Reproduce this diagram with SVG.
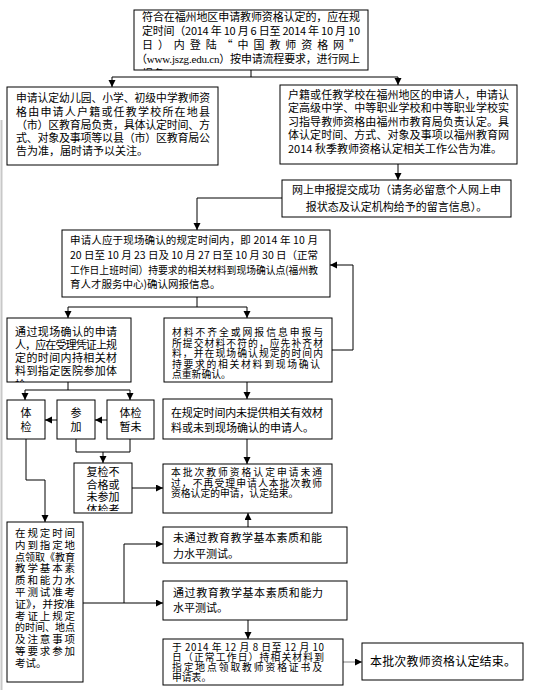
<svg xmlns="http://www.w3.org/2000/svg" width="543" height="690" viewBox="0 0 543 690">
<style>
.b{fill:#fff;stroke:#000;stroke-width:1}
.t{font-family:"Noto Sans CJK SC","Noto Sans",sans-serif;font-size:11px;fill:#000}
.s{font-size:10.5px}
.k{font-size:9.8px}
.m{text-anchor:middle}
.c{stroke:#000;stroke-width:1;fill:none}
.a{stroke:#000;stroke-width:1;fill:none;marker-end:url(#ar)}
.u{font-family:"Liberation Serif",serif}
</style>
<defs>
<marker id="ar" markerUnits="userSpaceOnUse" markerWidth="8" markerHeight="8" refX="7" refY="3.5" orient="auto"><path d="M0,0 L7,3.5 L0,7 z" fill="#000"/></marker>
<clipPath id="cp1"><rect x="134" y="10" width="234" height="60"/></clipPath>
<clipPath id="cp6"><rect x="7" y="318" width="124" height="64"/></clipPath>
<clipPath id="cp11"><rect x="74" y="463" width="58" height="48"/></clipPath>
</defs>
<rect width="543" height="690" fill="#fff"/>
<line x1="1.5" y1="120" x2="1.5" y2="690" stroke="#c8c8c8" stroke-width="2"/>

<g id="connectors">
<polyline class="c" points="251,70 251,77"/>
<polyline class="c" points="112,77 398,77"/>
<polyline class="a" points="112,77 112,87"/>
<polyline class="a" points="398,77 398,85"/>
<polyline class="a" points="398,164 398,180"/>
<polyline class="a" points="282,198 197,198 197,230"/>
<polyline class="a" points="332,350 353,350 353,265 330,265"/>
<polyline class="c" points="197,297 197,307"/>
<polyline class="c" points="68,307 247,307"/>
<polyline class="a" points="68,307 68,318"/>
<polyline class="a" points="247,307 247,318"/>
<polyline class="a" points="247,382 247,399"/>
<polyline class="c" points="68,382 68,390"/>
<polyline class="c" points="25,390 130,390"/>
<polyline class="a" points="25,390 25,400"/>
<polyline class="a" points="130,390 130,400"/>
<polyline class="a" points="107,420 95,420"/>
<polyline class="a" points="57,420 45,420"/>
<polyline class="c" points="76,439 76,452 130,452 130,439"/>
<polyline class="a" points="103,452 103,463"/>
<polyline class="a" points="132,488 163,488"/>
<polyline class="a" points="26,439 26,480 45,480 45,522"/>
<polyline class="a" points="83,603 163,603"/>
<polyline class="a" points="124,603 124,544 163,544"/>
<polyline class="a" points="247,439 247,464"/>
<polyline class="a" points="248,527 248,513"/>
<polyline class="a" points="248,620 248,639"/>
<polyline class="a" points="343,662 362,662" style="stroke:#808080"/>
</g>

<g id="n1">
<rect class="b" x="134" y="10" width="234" height="60"/>
<text class="t" x="142" y="21" textLength="218" lengthAdjust="spacing">符合在福州地区申请教师资格认定的，应在规</text>
<text class="t" x="142" y="35" textLength="218" lengthAdjust="spacing">定时间（2014 年 10 月 6 日至 2014 年 10 月 10</text>
<text class="t" x="142" y="49" textLength="218" lengthAdjust="spacing">日）内登陆“中国教师资格网”</text>
<text class="t" x="136" y="63" textLength="224" lengthAdjust="spacing">（<tspan class="u">www.jszg.edu.cn</tspan>）按申请流程要求，进行网上</text>
<text class="t" x="142" y="78" clip-path="url(#cp1)">报名。</text>
</g>

<g id="n2">
<rect class="b" x="7" y="87" width="211" height="78"/>
<text class="t" x="16" y="102" textLength="194" lengthAdjust="spacingAndGlyphs">申请认定幼儿园、小学、初级中学教师资</text>
<text class="t" x="16" y="116" textLength="194" lengthAdjust="spacing">格由申请人户籍或任教学校所在地县</text>
<text class="t" x="16" y="129" textLength="194" lengthAdjust="spacing">（市）区教育局负责，具体认定时间、方</text>
<text class="t" x="16" y="142" textLength="194" lengthAdjust="spacing">式、对象及事项等以县（市）区教育局公</text>
<text class="t" x="16" y="155">告为准，届时请予以关注。</text>
</g>

<g id="n3">
<rect class="b" x="280" y="85" width="237" height="79"/>
<text class="t" x="288" y="99" textLength="221" lengthAdjust="spacing">户籍或任教学校在福州地区的申请人，申请认</text>
<text class="t" x="288" y="112" textLength="221" lengthAdjust="spacing">定高级中学、中等职业学校和中等职业学校实</text>
<text class="t" x="288" y="126" textLength="221" lengthAdjust="spacing">习指导教师资格由福州市教育局负责认定。具</text>
<text class="t" x="288" y="139" textLength="221" lengthAdjust="spacing">体认定时间、方式、对象及事项以福州教育网</text>
<text class="t" x="288" y="153">2014 秋季教师资格认定相关工作公告为准。</text>
</g>

<g id="n4">
<rect class="b" x="282" y="180" width="229" height="37"/>
<text class="t m" x="396.5" y="194">网上申报提交成功（请务必留意个人网上申</text>
<text class="t m" x="396.5" y="211">报状态及认定机构给予的留言信息）。</text>
</g>

<g id="n5">
<rect class="b" x="62" y="230" width="268" height="67"/>
<text class="t s" x="70" y="244" textLength="248" lengthAdjust="spacing">申请人应于现场确认的规定时间内，即 2014 年 10 月</text>
<text class="t s" x="70" y="259" textLength="248" lengthAdjust="spacing">20 日至 10 月 23 日及 10 月 27 日至 10 月 30 日（正常</text>
<text class="t s" x="70" y="274" textLength="248" lengthAdjust="spacingAndGlyphs">工作日上班时间）持要求的相关材料到现场确认点(福州教</text>
<text class="t s" x="70" y="288">育人才服务中心)确认网报信息。</text>
</g>

<g id="n6">
<rect class="b" x="7" y="318" width="124" height="64"/>
<text class="t" x="15" y="336" textLength="102" lengthAdjust="spacing">通过现场确认的申请</text>
<text class="t" x="15" y="349" textLength="102" lengthAdjust="spacing">人，应在受理凭证上规</text>
<text class="t" x="15" y="362" textLength="102" lengthAdjust="spacing">定的时间内持相关材</text>
<text class="t" x="15" y="375" textLength="102" lengthAdjust="spacing">料到指定医院参加体</text>
<text class="t" x="15" y="389" clip-path="url(#cp6)">检。</text>
</g>

<g id="n7">
<rect class="b" x="164" y="318" width="168" height="64"/>
<text class="t k" x="172" y="336" textLength="151" lengthAdjust="spacing">材料不齐全或网报信息申报与</text>
<text class="t k" x="172" y="346.5" textLength="151" lengthAdjust="spacing">所提交材料不符的，应先补齐材</text>
<text class="t k" x="172" y="357" textLength="151" lengthAdjust="spacing">料，并在现场确认规定的时间内</text>
<text class="t k" x="172" y="367.5" textLength="148" lengthAdjust="spacing">持要求的相关材料到现场确认</text>
<text class="t k" x="172" y="378">点重新确认。</text>
</g>

<g id="n8">
<rect class="b" x="7" y="400" width="38" height="39"/>
<text class="t m" x="26" y="417">体</text>
<text class="t m" x="26" y="431">检</text>
</g>

<g id="n9">
<rect class="b" x="57" y="400" width="38" height="39"/>
<text class="t m" x="76" y="417">参</text>
<text class="t m" x="76" y="431">加</text>
</g>

<g id="n10">
<rect class="b" x="107" y="400" width="47" height="39"/>
<text class="t m" x="130.5" y="417">体检</text>
<text class="t m" x="130.5" y="431">暂未</text>
</g>

<g id="n11">
<rect class="b" x="74" y="463" width="58" height="50"/>
<text class="t m" x="103" y="476">复检不</text>
<text class="t m" x="103" y="489">合格或</text>
<text class="t m" x="103" y="501">未参加</text>
<text class="t m" x="103" y="514" clip-path="url(#cp11)">体检者</text>
</g>

<g id="n12">
<rect class="b" x="7" y="522" width="76" height="160"/>
<text class="t s" x="15" y="537" textLength="60" lengthAdjust="spacing">在规定时间</text>
<text class="t s" x="15" y="548.8" textLength="60" lengthAdjust="spacing">内到指定地</text>
<text class="t s" x="15" y="560.6" textLength="60" lengthAdjust="spacingAndGlyphs">点领取《教育</text>
<text class="t s" x="15" y="572.4" textLength="60" lengthAdjust="spacing">教学基本素</text>
<text class="t s" x="15" y="584.2" textLength="60" lengthAdjust="spacing">质和能力水</text>
<text class="t s" x="15" y="596" textLength="60" lengthAdjust="spacing">平测试准考</text>
<text class="t s" x="15" y="607.8" textLength="60" lengthAdjust="spacingAndGlyphs">证》，并按准</text>
<text class="t s" x="15" y="619.6" textLength="60" lengthAdjust="spacing">考证上规定</text>
<text class="t s" x="15" y="631.4" textLength="60" lengthAdjust="spacingAndGlyphs">的时间、地点</text>
<text class="t s" x="15" y="643.2" textLength="60" lengthAdjust="spacing">及注意事项</text>
<text class="t s" x="15" y="655" textLength="60" lengthAdjust="spacing">等要求参加</text>
<text class="t s" x="15" y="666.8">考试。</text>
</g>

<g id="n13">
<rect class="b" x="163" y="399" width="169" height="40"/>
<text class="t" x="171" y="417" textLength="152" lengthAdjust="spacing">在规定时间内未提供相关有效材</text>
<text class="t" x="171" y="432">料或未到现场确认的申请人。</text>
</g>

<g id="n14">
<rect class="b" x="163" y="464" width="169" height="49"/>
<text class="t k" x="171" y="476" textLength="151" lengthAdjust="spacing">本批次教师资格认定申请未通</text>
<text class="t k" x="171" y="486.5" textLength="151" lengthAdjust="spacing">过，不再受理申请人本批次教师</text>
<text class="t k" x="171" y="497">资格认定的申请，认定结束。</text>
</g>

<g id="n15">
<rect class="b" x="163" y="527" width="184" height="36"/>
<text class="t" x="173" y="542" textLength="149" lengthAdjust="spacing">未通过教育教学基本素质和能</text>
<text class="t" x="173" y="558">力水平测试。</text>
</g>

<g id="n16">
<rect class="b" x="163" y="581" width="184" height="39"/>
<text class="t" x="173" y="597" textLength="150" lengthAdjust="spacing">通过教育教学基本素质和能力</text>
<text class="t" x="173" y="612">水平测试。</text>
</g>

<g id="n17">
<rect class="b" x="163" y="639" width="180" height="46"/>
<text class="t k" x="172" y="651" textLength="152" lengthAdjust="spacing">于 2014 年 12 月 8 日至 12 月 10</text>
<text class="t k" x="172" y="661" textLength="152" lengthAdjust="spacing">日（正常工作日）持相关材料到</text>
<text class="t k" x="172" y="671" textLength="150" lengthAdjust="spacing">指定地点领取教师资格证书及</text>
<text class="t k" x="172" y="681">申请表。</text>
</g>

<g id="n18">
<rect class="b" x="362" y="643" width="161" height="37"/>
<text class="t" x="370" y="666" style="font-size:12px" textLength="146" lengthAdjust="spacing">本批次教师资格认定结束。</text>
</g>
</svg>
